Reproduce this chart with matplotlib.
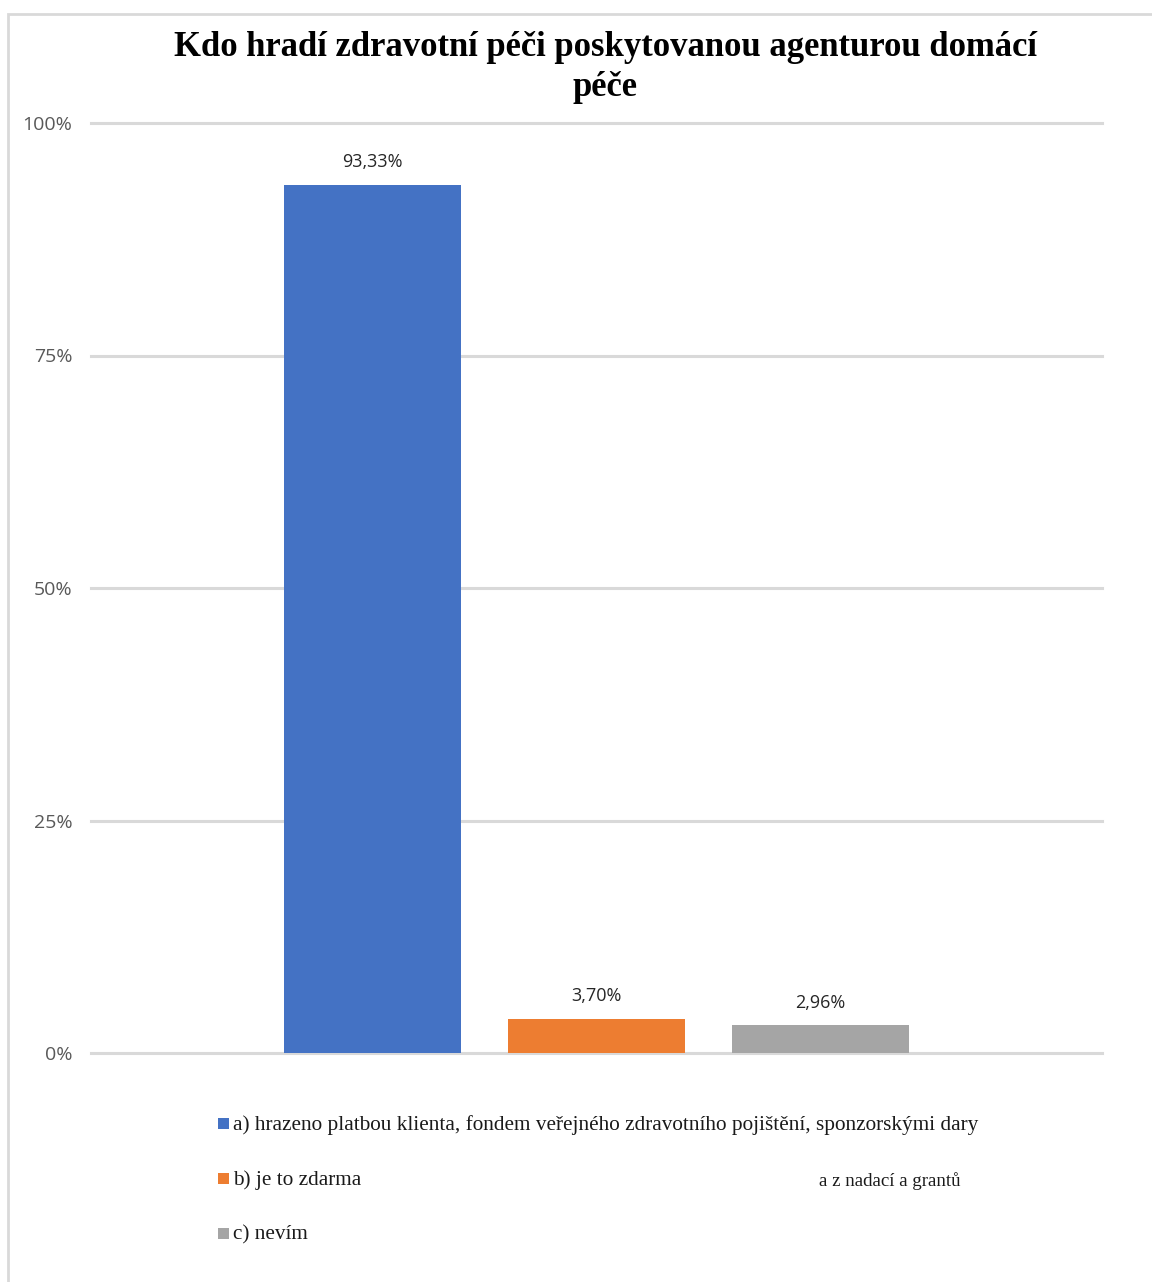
import matplotlib
matplotlib.use("Agg")
import matplotlib.pyplot as plt
from matplotlib.patches import Rectangle

title_lines = ["Kdo hradí zdravotní péči poskytovanou agenturou domácí", "péče"]
categories = [
    "a) hrazeno platbou klienta, fondem veřejného zdravotního pojištění, sponzorskými dary",
    "b) je to zdarma",
    "c) nevím",
]
values = [93.33, 3.70, 2.96]
value_labels = ["93,33%", "3,70%", "2,96%"]
colors = ["#4472C4", "#ED7D31", "#A5A5A5"]
yticks = [0, 25, 50, 75, 100]
ytick_labels = ["0%", "25%", "50%", "75%", "100%"]
extra_note = "a z nadací a grantů"

W, H = 1152, 1282
fig = plt.figure(figsize=(W / 100, H / 100), dpi=100)
fig.patch.set_facecolor("white")

# chart frame (continues past the right and bottom edges)
fig.patches.append(Rectangle((8 / W, -0.1), 1.2, 1.1 - 14 / H,
                             transform=fig.transFigure, fill=False,
                             edgecolor="#D9D9D9", linewidth=2, zorder=0))

ax = fig.add_axes([91 / W, 1 - 1053 / H, (1102 - 91) / W, (1053 - 123) / H])
ax.set_facecolor("none")

xs = list(range(len(values)))
ax.bar(xs, values, width=0.79, color=colors, zorder=3)
ax.set_xlim(-1.257, 3.257)
ax.set_ylim(0, 100)

for x, v, lab in zip(xs, values, value_labels):
    ax.annotate(lab, (x, v), xytext=(0, 10), textcoords="offset points",
                ha="center", va="bottom", fontsize=13, color="#262626",
                family=["Open Sans", "DejaVu Sans"])

ax.set_yticks(yticks)
ax.set_yticklabels(ytick_labels, family=["Open Sans", "DejaVu Sans"],
                   fontsize=14, color="#595959")
ax.tick_params(axis="y", length=0, pad=13.5)
ax.set_xticks([])
for t in yticks:
    ax.axhline(t, color="#D9D9D9", linewidth=2.2, zorder=1, clip_on=False)
for s in ax.spines.values():
    s.set_visible(False)

for line, y in zip(title_lines, [48, 87]):
    fig.text(605 / W, 1 - y / H, line, ha="center", va="center",
             family="Liberation Serif", fontweight="bold", fontsize=24.9)

# legend
leg_rows = [1124, 1179, 1234]
for lab, col, y in zip(categories, colors, leg_rows):
    fig.patches.append(Rectangle((218 / W, 1 - (y + 5) / H), 11 / W, 11 / H,
                                 transform=fig.transFigure, facecolor=col,
                                 edgecolor="none"))
    fig.text(233 / W, 1 - (y + 1) / H, lab, ha="left", va="center",
             family="Liberation Serif", fontsize=15.3, color="#1a1a1a")

fig.text(819 / W, 1 - 1181 / H, extra_note, ha="left", va="center",
         family="Liberation Serif", fontsize=13.6, color="#1a1a1a")

fig.savefig("out.png", dpi=100, facecolor="white")
